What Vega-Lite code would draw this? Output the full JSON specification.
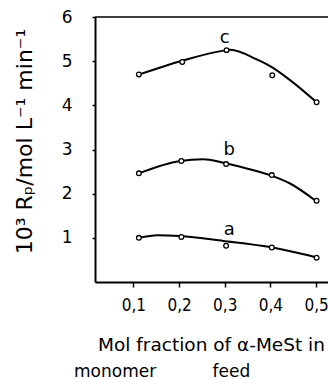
{
  "$schema": "https://vega.github.io/schema/vega-lite/v6.json",
  "width": 233,
  "height": 265,
  "padding": {"left": 95, "top": 17, "right": 0, "bottom": 97},
  "autosize": {"type": "none"},
  "background": "white",
  "config": {"view": {"stroke": null}, "font": "DejaVu Sans"},
  "title": {"text": "monomer\u2003\u2003\u2003 feed", "orient": "bottom", "anchor": "start", "frame": "group", "dx": -21, "offset": 10, "fontSize": 17, "fontWeight": "normal", "font": "DejaVu Sans", "color": "black"},
  "datasets": {
    "pts": [
      {"series": "a", "x": 0.112, "y": 1.0},
      {"series": "a", "x": 0.205, "y": 1.02},
      {"series": "a", "x": 0.303, "y": 0.82},
      {"series": "a", "x": 0.403, "y": 0.78},
      {"series": "a", "x": 0.501, "y": 0.55},
      {"series": "b", "x": 0.112, "y": 2.46},
      {"series": "b", "x": 0.205, "y": 2.74},
      {"series": "b", "x": 0.303, "y": 2.67},
      {"series": "b", "x": 0.403, "y": 2.42},
      {"series": "b", "x": 0.501, "y": 1.84},
      {"series": "c", "x": 0.112, "y": 4.7},
      {"series": "c", "x": 0.207, "y": 4.98},
      {"series": "c", "x": 0.304, "y": 5.25},
      {"series": "c", "x": 0.404, "y": 4.68},
      {"series": "c", "x": 0.501, "y": 4.07}
    ],
    "curves": [
      {"series": "a", "x": 0.112, "y": 1.0},
      {"series": "a", "x": 0.153, "y": 1.06},
      {"series": "a", "x": 0.202, "y": 1.04},
      {"series": "a", "x": 0.297, "y": 0.93},
      {"series": "a", "x": 0.399, "y": 0.79},
      {"series": "a", "x": 0.499, "y": 0.56},
      {"series": "b", "x": 0.112, "y": 2.46},
      {"series": "b", "x": 0.202, "y": 2.74},
      {"series": "b", "x": 0.253, "y": 2.78},
      {"series": "b", "x": 0.297, "y": 2.7},
      {"series": "b", "x": 0.348, "y": 2.57},
      {"series": "b", "x": 0.399, "y": 2.42},
      {"series": "b", "x": 0.443, "y": 2.23},
      {"series": "b", "x": 0.499, "y": 1.84},
      {"series": "c", "x": 0.113, "y": 4.7},
      {"series": "c", "x": 0.207, "y": 5.01},
      {"series": "c", "x": 0.304, "y": 5.25},
      {"series": "c", "x": 0.312, "y": 5.26},
      {"series": "c", "x": 0.37, "y": 5.04},
      {"series": "c", "x": 0.404, "y": 4.86},
      {"series": "c", "x": 0.443, "y": 4.57},
      {"series": "c", "x": 0.501, "y": 4.07}
    ],
    "labels": [
      {"label": "a", "x": 0.31, "y": 1.18},
      {"label": "b", "x": 0.31, "y": 2.99},
      {"label": "c", "x": 0.30, "y": 5.52}
    ]
  },
  "encoding": {
    "x": {
      "field": "x", "type": "quantitative",
      "scale": {"domain": [0.016, 0.526], "nice": false, "zero": false},
      "axis": {
        "values": [0.1, 0.2, 0.3, 0.4, 0.5],
        "labelExpr": "replace(format(datum.value, '.1f'), '.', ',')",
        "grid": false, "domainColor": "black", "domainWidth": 2, "tickColor": "black", "tickWidth": 1.5, "tickSize": 5,
        "labelPadding": 10, "labelFontSize": 17, "labelColor": "black", "labelFont": "'DejaVu Sans Condensed', 'DejaVu Sans'",
        "title": "Mol fraction of α-MeSt in", "titleFontSize": 18.5, "titleFontWeight": "normal", "titleColor": "black", "titleFont": "DejaVu Sans",
        "titleX": 116, "titleY": 68, "titleBaseline": "alphabetic", "titleAlign": "center"
      }
    },
    "y": {
      "field": "y", "type": "quantitative",
      "scale": {"domain": [0, 6], "nice": false},
      "axis": {
        "values": [1, 2, 3, 4, 5, 6],
        "grid": false, "domainColor": "black", "domainWidth": 2, "tickColor": "black", "tickWidth": 1.5, "tickSize": 3,
        "labelPadding": 20, "labelFontSize": 17, "labelColor": "black", "labelFont": "DejaVu Sans",
        "title": "10³ Rₚ/mol L⁻¹ min⁻¹", "titleFontSize": 22, "titleFontWeight": "normal", "titleColor": "black", "titleFont": "DejaVu Sans",
        "titleAngle": -90, "titleX": -64, "titleY": 124, "titleBaseline": "alphabetic", "titleAlign": "center"
      }
    }
  },
  "layer": [
    {
      "data": {"values": [{"y": 6}]},
      "mark": {"type": "rule", "color": "black", "strokeWidth": 1.5},
      "encoding": {"x": null}
    },
    {
      "data": {"name": "curves"},
      "mark": {"type": "line", "interpolate": "monotone", "color": "black", "strokeWidth": 2},
      "encoding": {"detail": {"field": "series"}}
    },
    {
      "data": {"name": "pts"},
      "mark": {"type": "point", "shape": "circle", "filled": true, "fill": "white", "stroke": "black", "strokeWidth": 1.3, "size": 22, "opacity": 1}
    },
    {
      "data": {"name": "labels"},
      "mark": {"type": "text", "fontSize": 18, "font": "DejaVu Sans", "color": "black"},
      "encoding": {"text": {"field": "label"}}
    }
  ]
}
